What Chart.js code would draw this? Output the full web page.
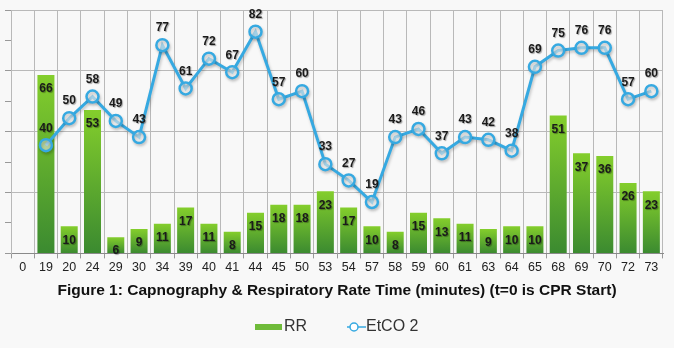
<!DOCTYPE html>
<html lang="en">
<head>
    <meta charset="UTF-8">
    <title>Capnography & Respiratory Rate</title>
    <script src="https://cdn.jsdelivr.net/npm/chart.js"></script>
    <style>
        html, body {
            margin: 0;
            padding: 0;
            background: #f8f8f8;
        }
        #wrap {
            width: 674px;
            height: 348px;
        }
    </style>
</head>
<body>
    <div id="wrap"><canvas id="myChart"></canvas></div>

    <script>
        // time in minutes after CPR start
        const minutes = ['0', '19', '20', '24', '29', '30', '34', '39', '40', '41', '44', '45', '50', '53',
            '54', '57', '58', '59', '60', '61', '63', '64', '65', '68', '69', '70', '72', '73'];
        // respiratory rate (bars)
        const rr = [null, 66, 10, 53, 6, 9, 11, 17, 11, 8, 15, 18, 18, 23,
            17, 10, 8, 15, 13, 11, 9, 10, 10, 51, 37, 36, 26, 23];
        // end-tidal CO2 (line)
        const etco2 = [null, 40, 50, 58, 49, 43, 77, 61, 72, 67, 82, 57, 60, 33,
            27, 19, 43, 46, 37, 43, 42, 38, 69, 75, 76, 76, 57, 60];

        const BLUE = '#36a9e1';

        // soft drop shadow under the EtCO2 line
        const lineShadow = {
            id: 'lineShadow',
            beforeDatasetDraw(chart, args) {
                if (args.meta.type !== 'line') return;
                const ctx = chart.ctx;
                ctx.save();
                ctx.shadowColor = 'rgba(0,0,0,0.22)';
                ctx.shadowBlur = 3;
                ctx.shadowOffsetX = 1;
                ctx.shadowOffsetY = 2;
            },
            afterDatasetDraw(chart, args) {
                if (args.meta.type !== 'line') return;
                chart.ctx.restore();
            }
        };

        // value labels on bars and points
        const valueLabels = {
            id: 'valueLabels',
            afterDatasetsDraw(chart) {
                const ctx = chart.ctx;
                ctx.save();
                ctx.font = "bold 12px Arial, 'Liberation Sans', sans-serif";
                ctx.textAlign = 'center';
                ctx.textBaseline = 'middle';
                ctx.shadowColor = 'rgba(0,0,0,0.35)';
                ctx.shadowBlur = 1;
                ctx.shadowOffsetX = 1;
                ctx.shadowOffsetY = 1;
                ctx.fillStyle = '#1a1a1a';
                chart.data.datasets.forEach((ds, di) => {
                    const meta = chart.getDatasetMeta(di);
                    meta.data.forEach((el, i) => {
                        const v = ds.data[i];
                        if (v == null) return;
                        const dy = ds.type === 'line' ? -17 : 14;
                        ctx.fillText(String(v), el.x, el.y + dy);
                    });
                });
                ctx.restore();
            }
        };

        // legend under the axis title
        const bottomLegend = {
            id: 'bottomLegend',
            afterDraw(chart) {
                const ctx = chart.ctx;
                const y = 327;
                ctx.save();
                ctx.fillStyle = '#6fbb3a';
                ctx.fillRect(255, y - 3, 27, 6);
                ctx.strokeStyle = BLUE;
                ctx.lineWidth = 1.5;
                ctx.beginPath();
                ctx.moveTo(347, y);
                ctx.lineTo(366, y);
                ctx.stroke();
                ctx.beginPath();
                ctx.arc(354, y, 4, 0, Math.PI * 2);
                ctx.fillStyle = '#fff';
                ctx.fill();
                ctx.stroke();
                ctx.fillStyle = '#333';
                ctx.font = '16px Arial, sans-serif';
                ctx.textBaseline = 'middle';
                ctx.textAlign = 'left';
                ctx.fillText(chart.data.datasets[0].label, 284, y);
                ctx.fillText(chart.data.datasets[1].label, 366, y);
                ctx.restore();
            }
        };

        const ctx = document.getElementById('myChart').getContext('2d');

        const chart = new Chart(ctx, {
            type: 'bar',
            data: {
                labels: minutes,
                datasets: [{
                    type: 'bar',
                    label: 'RR',
                    data: rr,
                    order: 2,
                    backgroundColor: function(c) {
                        const ch = c.chart;
                        const area = ch.chartArea;
                        const v = c.raw;
                        if (!area || v == null) return '#5aa836';
                        const top = ch.scales.y.getPixelForValue(v);
                        const grad = ch.ctx.createLinearGradient(0, top, 0, area.bottom);
                        grad.addColorStop(0, '#84ce2c');
                        grad.addColorStop(1, '#3b8a30');
                        return grad;
                    },
                    borderWidth: 0,
                    barPercentage: 0.73,
                    categoryPercentage: 1
                }, {
                    type: 'line',
                    label: 'EtCO 2',
                    data: etco2,
                    order: 1,
                    borderColor: BLUE,
                    borderWidth: 3,
                    pointRadius: 6,
                    pointBorderWidth: 2.5,
                    pointBackgroundColor: 'rgba(255,255,255,0.55)',
                    pointBorderColor: BLUE,
                    tension: 0
                }]
            },
            options: {
                responsive: true,
                maintainAspectRatio: false,
                animation: false,
                layout: {
                    padding: { left: 5, right: 11, top: 10, bottom: 48 }
                },
                plugins: {
                    tooltip: { enabled: false },
                    legend: { display: false }
                },
                scales: {
                    x: {
                        grid: {
                            offset: true,
                            color: '#b9b9b9',
                            tickColor: '#999',
                            tickLength: 5
                        },
                        border: { color: '#8a8a8a' },
                        ticks: {
                            color: '#222',
                            padding: 2,
                            maxRotation: 0,
                            autoSkip: false,
                            font: { family: 'Arial, sans-serif', size: 12.5 }
                        },
                        title: {
                            display: true,
                            text: 'Figure 1: Capnography & Respiratory Rate Time (minutes) (t=0 is CPR Start)',
                            color: '#111',
                            font: { family: 'Arial, sans-serif', size: 15.5, weight: 'bold' },
                            padding: { top: 4, bottom: 0 }
                        }
                    },
                    y: {
                        min: 0,
                        max: 90,
                        ticks: { display: false, stepSize: 11.25 },
                        grid: {
                            color: c => {
                                const k = c.tick.value / 22.5;
                                return Math.abs(k - Math.round(k)) < 1e-6 ? '#b9b9b9' : 'rgba(0,0,0,0)';
                            },
                            tickColor: '#999',
                            tickLength: 6
                        },
                        border: { color: '#b9b9b9' }
                    }
                }
            },
            plugins: [lineShadow, valueLabels, bottomLegend]
        });
    </script>
</body>
</html>
